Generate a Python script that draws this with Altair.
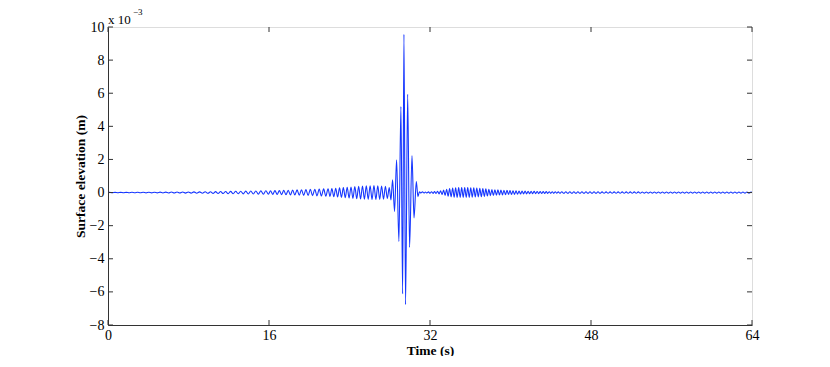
import altair as alt
import pandas as pd

# ---- axis ticks ----
x_ticks = [0, 16, 32, 48, 64]
y_ticks = [-8, -6, -4, -2, 0, 2, 4, 6, 8, 10]

# ---- surface elevation extrema (x 1e-3 m) ----
pre_a_t = [0.14, 0.42, 0.70, 0.98, 1.26, 1.54, 1.82, 2.10, 2.38, 2.66,
           2.94, 3.22, 3.50, 3.78, 4.06, 4.34, 4.62, 4.90, 5.18, 5.46,
           5.74, 6.02, 6.30, 6.58, 6.86, 7.14, 7.42, 7.70, 7.98, 8.26,
           8.54, 8.82, 9.10, 9.38, 9.66, 9.94]
pre_a_v = [0.01, -0.01, 0.01, -0.01, 0.01, -0.01, 0.01, -0.01, 0.015, -0.015,
           0.015, -0.015, 0.02, -0.02, 0.02, -0.02, 0.02, -0.02, 0.025, -0.025,
           0.025, -0.025, 0.03, -0.03, 0.03, -0.03, 0.035, -0.035, 0.035, -0.035,
           0.04, -0.04, 0.04, -0.04, 0.045, -0.045]

pre_b_t = [10.19, 10.44, 10.69, 10.94, 11.19, 11.44, 11.69, 11.94, 12.19, 12.44,
           12.69, 12.94, 13.19, 13.44, 13.69, 13.94, 14.19, 14.44, 14.69, 14.94,
           15.19, 15.44, 15.69, 15.94]
pre_b_v = [0.05, -0.05, 0.055, -0.055, 0.06, -0.06, 0.065, -0.065, 0.07, -0.07,
           0.075, -0.075, 0.08, -0.08, 0.085, -0.085, 0.09, -0.09, 0.095, -0.095,
           0.10, -0.10, 0.105, -0.105]

pre_c_t = [16.15, 16.37, 16.59, 16.81, 17.03, 17.25, 17.47, 17.69, 17.91, 18.13,
           18.35, 18.57, 18.79, 19.01, 19.23, 19.45, 19.67, 19.89, 20.11, 20.33,
           20.55, 20.77, 20.99, 21.21, 21.43, 21.65, 21.87]
pre_c_v = [0.11, -0.11, 0.12, -0.12, 0.12, -0.125, 0.13, -0.13, 0.14, -0.14,
           0.15, -0.15, 0.16, -0.16, 0.17, -0.17, 0.18, -0.18, 0.19, -0.19,
           0.20, -0.20, 0.21, -0.21, 0.22, -0.22, 0.23]

pre_d_t = [22.06, 22.25, 22.44, 22.63, 22.82, 23.01, 23.20, 23.39, 23.58, 23.77,
           23.96, 24.15, 24.34, 24.53, 24.72, 24.91, 25.10, 25.29, 25.48, 25.67,
           25.86, 26.05, 26.24, 26.43, 26.62, 26.81, 27.00, 27.19, 27.38, 27.57,
           27.76, 27.95, 28.12]
pre_d_v = [-0.23, 0.24, -0.25, 0.26, -0.27, 0.28, -0.29, 0.30, -0.31, 0.32,
           -0.33, 0.34, -0.35, 0.36, -0.37, 0.38, -0.39, 0.40, -0.40, 0.41,
           -0.41, 0.41, -0.42, 0.42, -0.42, 0.41, -0.41, 0.40, -0.40, 0.38,
           -0.36, 0.30, -0.45]

burst_t = [28.28, 28.48, 28.68, 28.91, 29.11, 29.28, 29.41, 29.57, 29.78, 29.97,
           30.21, 30.41, 30.64, 30.80]
burst_v = [0.77, -1.14, 1.98, -2.95, 5.19, -6.12, 9.56, -6.77, 5.94, -3.31,
           2.24, -1.54, 0.67, -0.25]

rip_t = [30.95, 31.10, 31.25, 31.40, 31.55, 31.70, 31.85, 32.00, 32.15, 32.30,
         32.45, 32.60, 32.75, 32.90]
rip_v = [0.05, -0.03, 0.04, -0.03, 0.03, -0.03, 0.04, -0.04, 0.05, -0.05,
         0.06, -0.06, 0.08, -0.08]

post_a_t = [33.05, 33.20, 33.35, 33.50, 33.65, 33.80, 33.95, 34.10, 34.25, 34.40,
            34.55, 34.70, 34.85, 35.00, 35.15, 35.30, 35.45, 35.60, 35.75, 35.90,
            36.05, 36.20, 36.35, 36.50, 36.65, 36.80, 36.95, 37.10, 37.25, 37.40,
            37.55, 37.70, 37.85, 38.00, 38.15, 38.30, 38.45, 38.60, 38.75, 38.90,
            39.05, 39.20, 39.35, 39.50, 39.65, 39.80, 39.95]
post_a_v = [0.10, -0.12, 0.15, -0.17, 0.20, -0.22, 0.24, -0.26, 0.27, -0.28,
            0.29, -0.30, 0.30, -0.30, 0.30, -0.30, 0.30, -0.30, 0.30, -0.29,
            0.29, -0.28, 0.28, -0.27, 0.27, -0.26, 0.26, -0.25, 0.24, -0.23,
            0.22, -0.21, 0.20, -0.19, 0.18, -0.18, 0.17, -0.16, 0.16, -0.15,
            0.15, -0.14, 0.14, -0.13, 0.13, -0.12, 0.12]

post_b_t = [40.10, 40.25, 40.40, 40.55, 40.70, 40.85, 41.00, 41.15, 41.30, 41.45,
            41.60, 41.75, 41.90, 42.05, 42.20, 42.35, 42.50, 42.65, 42.80, 42.95,
            43.10, 43.25, 43.40, 43.55, 43.70, 43.85, 44.00, 44.15, 44.30, 44.45,
            44.60, 44.75, 44.90]
post_b_v = [-0.12, 0.11, -0.11, 0.10, -0.10, 0.095, -0.09, 0.09, -0.085, 0.085,
            -0.08, 0.08, -0.075, 0.075, -0.07, 0.07, -0.07, 0.065, -0.065, 0.06,
            -0.06, 0.06, -0.055, 0.055, -0.055, 0.05, -0.05, 0.05, -0.05, 0.05,
            -0.045, 0.045, -0.045]

post_c_t = [45.1, 45.3, 45.5, 45.7, 45.9, 46.1, 46.3, 46.5, 46.7, 46.9,
            47.1, 47.3, 47.5, 47.7, 47.9, 48.1, 48.3, 48.5, 48.7, 48.9,
            49.1, 49.3, 49.5, 49.7, 49.9, 50.1, 50.3, 50.5, 50.7, 50.9,
            51.1, 51.3, 51.5, 51.7, 51.9, 52.1, 52.3, 52.5, 52.7, 52.9,
            53.1, 53.3, 53.5, 53.7, 53.9, 54.1, 54.3, 54.5, 54.7, 54.9,
            55.1, 55.3, 55.5, 55.7, 55.9, 56.1, 56.3, 56.5, 56.7, 56.9,
            57.1, 57.3, 57.5, 57.7, 57.9, 58.1, 58.3, 58.5, 58.7, 58.9,
            59.1, 59.3, 59.5, 59.7, 59.9, 60.1, 60.3, 60.5, 60.7, 60.9,
            61.1, 61.3, 61.5, 61.7, 61.9, 62.1, 62.3, 62.5, 62.7, 62.9,
            63.1, 63.3, 63.5, 63.7, 63.9]
post_c_v = [0.045, -0.045, 0.045, -0.045, 0.045, -0.045, 0.045, -0.045, 0.045, -0.045,
            0.045, -0.045, 0.045, -0.045, 0.045, -0.045, 0.045, -0.045, 0.045, -0.045,
            0.04, -0.04, 0.04, -0.04, 0.04, -0.04, 0.04, -0.04, 0.04, -0.04,
            0.04, -0.04, 0.04, -0.04, 0.04, -0.04, 0.04, -0.04, 0.04, -0.04,
            0.035, -0.035, 0.035, -0.035, 0.035, -0.035, 0.035, -0.035, 0.035, -0.035,
            0.035, -0.035, 0.035, -0.035, 0.035, -0.035, 0.035, -0.035, 0.035, -0.035,
            0.035, -0.035, 0.035, -0.035, 0.035, -0.035, 0.035, -0.035, 0.035, -0.035,
            0.035, -0.035, 0.035, -0.035, 0.035, -0.035, 0.035, -0.035, 0.035, -0.035,
            0.035, -0.035, 0.035, -0.035, 0.035, -0.035, 0.035, -0.035, 0.035, -0.035,
            0.035, -0.035, 0.035, -0.035, 0.035]

start_t, start_v = [0.0], [0.0]
end_t, end_v = [64.0], [0.0]

times = (start_t + pre_a_t + pre_b_t + pre_c_t + pre_d_t + burst_t + rip_t
         + post_a_t + post_b_t + post_c_t + end_t)
vals = (start_v + pre_a_v + pre_b_v + pre_c_v + pre_d_v + burst_v + rip_v
        + post_a_v + post_b_v + post_c_v + end_v)
assert len(times) == len(vals), (len(times), len(vals))

df = pd.DataFrame({"t": times, "eta": vals})

W, H = 644, 298
FONT = "Liberation Serif"
FRAME = "#333333"

xs = alt.Scale(domain=[0, 64], nice=False, zero=False)
ys = alt.Scale(domain=[-8, 10], nice=False, zero=False)

x_axis = alt.Axis(values=x_ticks, format="d", title="Time (s)", ticks=False, domain=True,
                  domainColor=FRAME, domainWidth=1, labelFlush=False,
                  grid=False, labelPadding=3, labelFont=FONT, labelFontSize=14,
                  labelColor="black", titleFont=FONT, titleFontSize=13.5,
                  titleFontWeight="bold", titleColor="black", titleY=25,
                  titleBaseline="middle")
y_axis = alt.Axis(values=y_ticks, format="d", title="Surface elevation (m)", ticks=False,
                  domain=True, domainColor=FRAME, domainWidth=1, labelFlush=False,
                  grid=False, labelPadding=4, labelFont=FONT,
                  labelFontSize=14, labelColor="black", titleFont=FONT, titleFontSize=13.5,
                  titleFontWeight="bold", titleColor="black", titleX=-28,
                  titleBaseline="middle")

line = alt.Chart(df).mark_line(color="#1536ff", strokeWidth=1.1, interpolate="monotone",
                               clip=True).encode(
    x=alt.X("t:Q", scale=xs, axis=x_axis),
    y=alt.Y("eta:Q", scale=ys, axis=y_axis),
)

# inward tick marks, positioned by the shared scales
ydf = pd.DataFrame({"eta": y_ticks})
xdf = pd.DataFrame({"t": x_ticks})

tick_l = alt.Chart(ydf).mark_rule(color=FRAME, strokeWidth=1).encode(
    y=alt.Y("eta:Q", scale=ys, axis=y_axis), x=alt.value(0), x2=alt.value(5))
tick_r = alt.Chart(ydf).mark_rule(color=FRAME, strokeWidth=1).encode(
    y=alt.Y("eta:Q", scale=ys, axis=y_axis), x=alt.value(W - 5), x2=alt.value(W))
tick_b = alt.Chart(xdf).mark_rule(color=FRAME, strokeWidth=1).encode(
    x=alt.X("t:Q", scale=xs, axis=x_axis), y=alt.value(H - 5), y2=alt.value(H))
tick_t = alt.Chart(xdf).mark_rule(color=FRAME, strokeWidth=1).encode(
    x=alt.X("t:Q", scale=xs, axis=x_axis), y=alt.value(0), y2=alt.value(5))

mult = alt.Chart(pd.DataFrame({"s": ["x 10"]})).mark_text(
    align="left", baseline="alphabetic", font=FONT, fontSize=13, color="black").encode(
    x=alt.value(0), y=alt.value(-3), text="s:N")
sup = alt.Chart(pd.DataFrame({"s": ["\u22123"]})).mark_text(
    align="left", baseline="alphabetic", font=FONT, fontSize=9, color="black").encode(
    x=alt.value(25), y=alt.value(-12), text="s:N")

chart = alt.layer(line, tick_l, tick_r, tick_b, tick_t, mult, sup).properties(
    width=W, height=H,
    padding={"left": 100, "top": 19, "right": 62, "bottom": 31},
    autosize=alt.AutoSizeParams(type="none"),
).configure_view(stroke=FRAME, strokeWidth=1).configure(background="white")

chart.save("out.html", embed_options={"renderer": "svg", "actions": False})
